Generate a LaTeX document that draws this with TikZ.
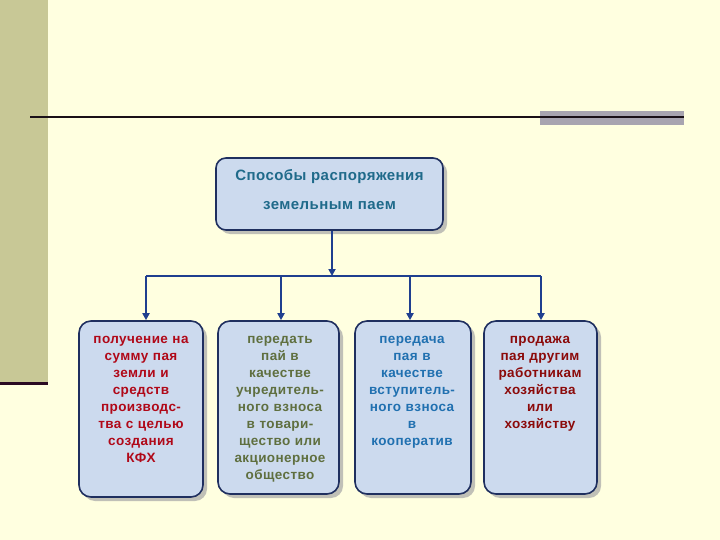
\documentclass[tikz,border=0pt]{standalone}
\usepackage{fontspec}
\setmainfont{Liberation Sans}
\newfontfamily\boxfont[LetterSpace=3]{Liberation Sans}
\usetikzlibrary{arrows.meta,shadows}
\definecolor{bgcream}{HTML}{FFFFE0}
\definecolor{olivebar}{HTML}{C8C896}
\definecolor{darkpurple}{HTML}{2A0A22}
\definecolor{graybar}{HTML}{A8A4B0}
\definecolor{rulecol}{HTML}{1A1018}
\definecolor{navy}{HTML}{1F2F5F}
\definecolor{boxfill}{HTML}{CCDAEE}
\definecolor{conn}{HTML}{1F3F8F}
\definecolor{toptext}{HTML}{1F6A8A}
\definecolor{redtext}{HTML}{B00818}
\definecolor{olivetext}{HTML}{5F6F3F}
\definecolor{bluetext}{HTML}{2070B0}
\definecolor{maroontext}{HTML}{8B0A0A}
\begin{document}
\begin{tikzpicture}[x=1pt,y=-1pt,
  boxstyle/.style={draw=navy, line width=1.6pt, fill=boxfill, rounded corners=12pt,
    drop shadow={shadow xshift=4pt, shadow yshift=-4pt, fill=black!35, opacity=0.7},
    inner sep=0pt},
  txt/.style={anchor=north, inner sep=0pt, align=center, text width=118pt,
    font=\boxfont\fontsize{13.5}{17}\selectfont\bfseries},
  toptxt/.style={anchor=center, inner sep=0pt, text=toptext,
    font=\boxfont\fontsize{15}{17}\selectfont\bfseries},
  conline/.style={draw=conn, line width=2.6pt},
  conarrow/.style={draw=conn, line width=2.6pt, -{Triangle[length=7pt,width=7pt]}}
]
\fill[bgcream] (0,0) rectangle (720,540);
\useasboundingbox (0,0) rectangle (720,540);
\fill[olivebar] (0,0) rectangle (48,382);
\fill[darkpurple] (0,382) rectangle (48,385);
\fill[graybar] (540,111) rectangle (684,125);
\draw[line width=2pt, rulecol] (30,117.5) -- (684,117.5);

\node[boxstyle, minimum width=227pt, minimum height=72pt, rounded corners=10pt] (top) at (329.5,194) {};
\node[toptxt] (toptxt1) at (329.5,177) {Способы распоряжения};
\node[toptxt] (toptxt2) at (329.5,206) {земельным паем};

\node[boxstyle, minimum width=124pt, minimum height=176pt] (b1) at (141,409) {};
\node[boxstyle, minimum width=121pt, minimum height=173pt] (b2) at (278.5,407.5) {};
\node[boxstyle, minimum width=116pt, minimum height=173pt] (b3) at (413,407.5) {};
\node[boxstyle, minimum width=113pt, minimum height=173pt] (b4) at (540.5,407.5) {};

\node[txt, text=redtext] (t1) at (141,336) {получение на\\сумму пая\\земли и\\средств\\производс-\\тва с целью\\создания\\КФХ};
\node[txt, text=olivetext] (t2) at (280,336) {передать\\пай в\\качестве\\учредитель-\\ного взноса\\в товари-\\щество или\\акционерное\\общество};
\node[txt, text=bluetext] (t3) at (412,336) {передача\\пая в\\качестве\\вступитель-\\ного взноса\\в\\кооператив};
\node[txt, text=maroontext] (t4) at (540,336) {продажа\\пая другим\\работникам\\хозяйства\\или\\хозяйству};

\coordinate (busL) at (146,276);
\coordinate (busR) at (541,276);
\coordinate (busM) at (332,276);
\coordinate (bus2) at (281,276);
\coordinate (bus3) at (410,276);

\draw[conarrow] (top.south -| busM) -- (busM);
\draw[conline] (busL) -- (busR);
\draw[conarrow] (busL) -- (busL |- b1.north);
\draw[conarrow] (bus2) -- (bus2 |- b2.north);
\draw[conarrow] (bus3) -- (bus3 |- b3.north);
\draw[conarrow] (busR) -- (busR |- b4.north);
\end{tikzpicture}
\end{document}
